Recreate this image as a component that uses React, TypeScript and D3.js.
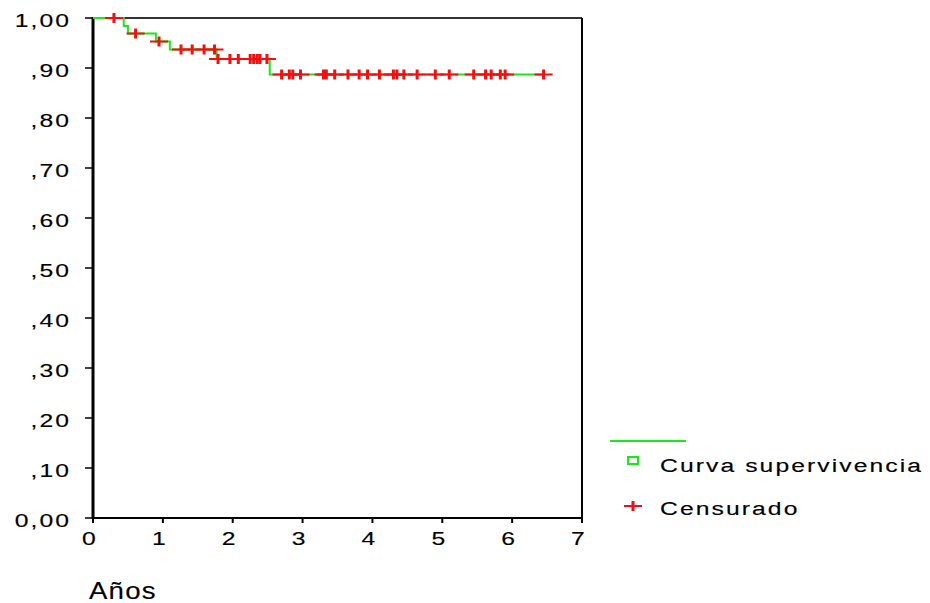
import React from "react";
import * as d3 from "d3";

// Kaplan-Meier steps (years, cumulative survival)
const eventTimes = [0, 0.44, 0.5, 0.9, 1.1, 1.77, 2.53];
const survival = [1.0, 0.984, 0.969, 0.953, 0.937, 0.918, 0.887];
const lastTime = 6.45;

// censored observations (years)
const censorTimes = [
  0.3, 0.61, 0.945, 1.26, 1.42, 1.59, 1.74, 1.79, 1.96, 2.08, 2.25, 2.3, 2.35,
  2.39, 2.49, 2.7, 2.81, 2.86, 2.97, 3.3, 3.34, 3.46, 3.65, 3.81, 3.93, 4.1,
  4.3, 4.35, 4.45, 4.64, 4.9, 5.1, 5.45, 5.62, 5.7, 5.83, 5.9, 6.45,
];

const yTicks = [0, 0.1, 0.2, 0.3, 0.4, 0.5, 0.6, 0.7, 0.8, 0.9, 1.0];
const yTickLabels = ["0,00", ",10", ",20", ",30", ",40", ",50", ",60", ",70", ",80", ",90", "1,00"];
const xTicks = [0, 1, 2, 3, 4, 5, 6, 7];

const GREEN = "#1ee61e";
const RED = "#f01010";
const FONT = "'Liberation Sans', Arial, sans-serif";

const survAt = (t: number) => {
  let s = survival[0];
  eventTimes.forEach((e, i) => {
    if (e <= t) s = survival[i];
  });
  return s;
};

// stretched SPSS-like text
const Label = ({ x, y, anchor = "start", size = 19, sx = 1.3, ls = 1.6, children }: any) => (
  <text
    transform={`translate(${x},${y}) scale(${sx},1)`}
    textAnchor={anchor}
    fontFamily={FONT}
    fontSize={size}
    letterSpacing={ls}
    fill="#000"
    stroke="#000"
    strokeWidth={0.15}
  >
    {children}
  </text>
);

const Plus = ({ cx, cy }: { cx: number; cy: number }) => (
  <g fill={RED}>
    <rect x={cx - 9} y={cy - 1} width={18} height={2} />
    <rect x={cx - 1.5} y={cy - 5} width={3} height={10} />
  </g>
);

export default function App() {
  const x = d3.scaleLinear().domain([0, 7]).range([93, 582]);
  const y = d3.scaleLinear().domain([0, 1]).range([518, 18]);

  const pts: [number, number][] = eventTimes.map((t, i) => [t, survival[i]]);
  pts.push([lastTime, survival[survival.length - 1]]);
  const line = d3
    .line<[number, number]>()
    .x((d) => x(d[0]))
    .y((d) => y(d[1]))
    .curve(d3.curveStepAfter);

  return (
    <svg width={930} height={603} style={{ position: "absolute", left: 0, top: 0 }}>
      <rect width={930} height={603} fill="#fff" />

      {/* frame */}
      <line x1={x(0)} x2={x(7)} y1={y(1)} y2={y(1)} stroke="#333" strokeWidth={2} />
      <line x1={x(7)} x2={x(7)} y1={y(1)} y2={y(0) + 2} stroke="#000" strokeWidth={2} />
      <line x1={x(0) - 1} x2={x(7) + 1} y1={y(0)} y2={y(0)} stroke="#000" strokeWidth={2} />
      <line x1={x(0)} x2={x(0)} y1={y(1) - 1} y2={y(0) + 1} stroke="#000" strokeWidth={3} />

      {/* y axis */}
      {yTicks.map((v, i) => (
        <g key={v}>
          <line x1={x(0) - 8} x2={x(0)} y1={y(v)} y2={y(v)} stroke="#000" strokeWidth={1.5} />
          <Label x={71} y={y(v) + 9} anchor="end">
            {yTickLabels[i]}
          </Label>
        </g>
      ))}

      {/* x axis */}
      {xTicks.map((v) => (
        <g key={v}>
          <line x1={x(v)} x2={x(v)} y1={y(0)} y2={y(0) + 5} stroke="#000" strokeWidth={2} />
          <Label x={x(v) - 3} y={545} anchor="middle">
            {v}
          </Label>
        </g>
      ))}
      <Label x={89} y={599} size={23} sx={1.2} ls={1}>
        Años
      </Label>

      {/* survival curve */}
      <path d={line(pts) ?? ""} fill="none" stroke={GREEN} strokeWidth={2} />
      {censorTimes.map((t, i) => (
        <Plus key={i} cx={x(t)} cy={y(survAt(t))} />
      ))}

      {/* legend */}
      <line x1={610} x2={686} y1={441} y2={441} stroke={GREEN} strokeWidth={2} />
      <rect x={628} y={457} width={10} height={7} fill="#fff" stroke={GREEN} strokeWidth={2} />
      <Label x={660} y={472}>
        Curva supervivencia
      </Label>
      <Plus cx={633} cy={506} />
      <Label x={660} y={515}>
        Censurado
      </Label>
    </svg>
  );
}
